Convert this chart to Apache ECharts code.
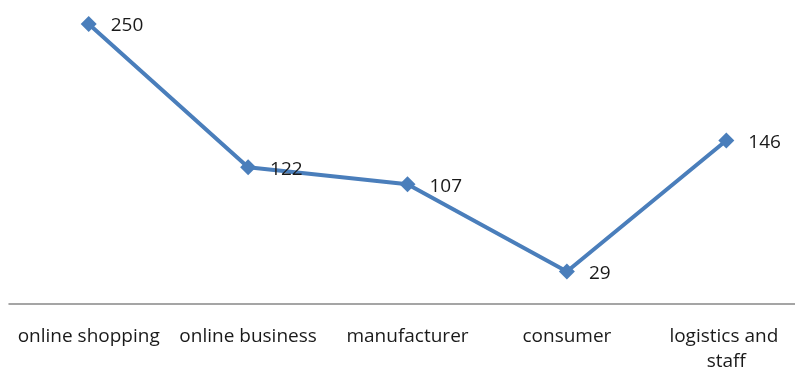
<!DOCTYPE html>
<html><head><meta charset="utf-8">
<script src="https://cdn.jsdelivr.net/npm/echarts@6/dist/echarts.min.js"></script>
<style>html,body{margin:0;padding:0;background:#fff}#c{width:795px;height:370px}</style>
</head><body><div id="c"></div>
<script>
const categories = ['online shopping', 'online business', 'manufacturer', 'consumer', 'logistics and staff'];
const values = [250, 122, 107, 29, 146];

const chart = echarts.init(document.getElementById('c'));
chart.setOption({
  animation: false,
  grid: { left: 9, right: -11, top: 24, bottom: 66, containLabel: false, outerBoundsMode: 'none' },
  xAxis: {
    type: 'category',
    data: categories.map(c => c.length > 16 ? { value: c, textStyle: { width: 130, overflow: 'break' } } : c),
    boundaryGap: true,
    axisLine: { lineStyle: { color: '#888888', width: 1.5 } },
    axisTick: { show: false },
    axisLabel: { interval: 0, color: '#1a1a1a', fontFamily: 'Open Sans', fontSize: 19, margin: 20, lineHeight: 25, align: 'center' }
  },
  yAxis: { type: 'value', min: 0, max: 250, show: false, splitLine: { show: false } },
  series: [{
    type: 'line', data: values, clip: false,
    symbol: 'diamond', symbolSize: 16,
    lineStyle: { color: '#4a7ebb', width: 4 },
    itemStyle: { color: '#4a7ebb' },
    label: { show: true, position: 'right', distance: 14, offset: [0, 2], color: '#1a1a1a', fontFamily: 'Open Sans', fontSize: 19 }
  }]
});
</script></body></html>
